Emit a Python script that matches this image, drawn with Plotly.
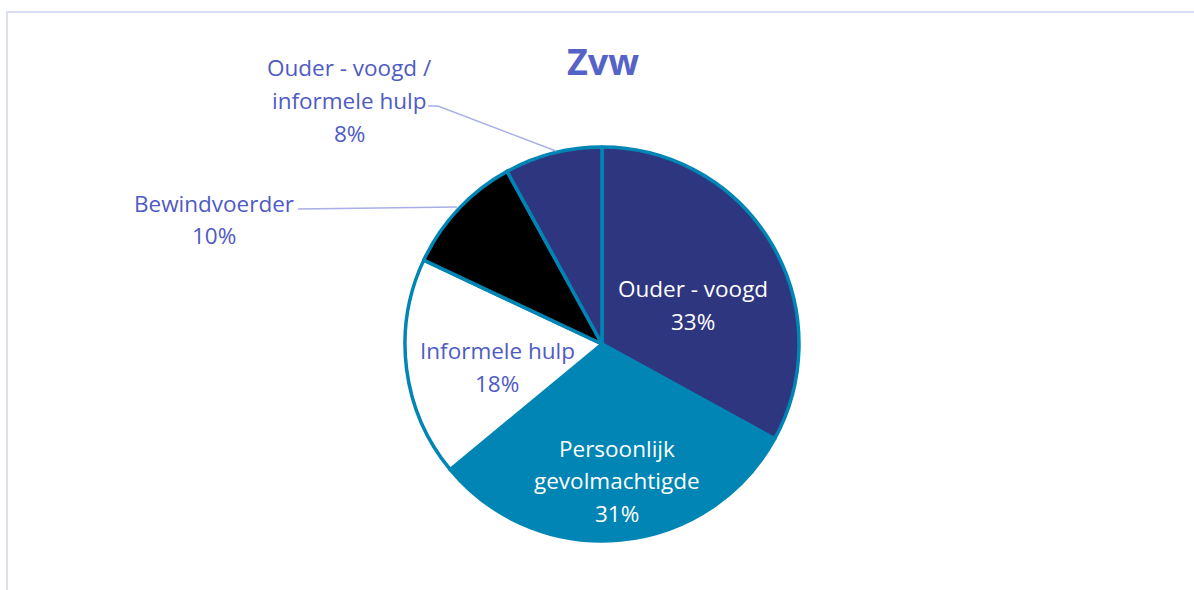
import plotly.graph_objects as go

W, H = 1194, 590

labels = ["Ouder - voogd", "Persoonlijk gevolmachtigde", "Informele hulp",
          "Bewindvoerder", "Ouder - voogd / informele hulp"]
label_lines = [["Ouder - voogd"], ["Persoonlijk", "gevolmachtigde"], ["Informele hulp"],
               ["Bewindvoerder"], ["Ouder - voogd /", "informele hulp"]]
values = [33, 31, 18, 10, 8]
colors = ["#2E3680", "#0085B5", "#FFFFFF", "#000000", "#2E3680"]
text_colors = ["#FFFFFF", "#FFFFFF", "#4F5BC4", "#4F5BC4", "#4F5BC4"]
# label anchor (pixel centre of first line)
label_pos = [(693, 289), (617, 448), (497, 351), (214, 203), (349, 68)]

def px(x):
    return x / W

def py(y):
    return 1 - y / H

cx, cy, r = 602, 344, 197

fig = go.Figure(go.Pie(
    labels=labels, values=values, sort=False, direction="clockwise", rotation=0,
    marker=dict(colors=colors, line=dict(color="#0085B5", width=3.5)),
    textinfo="none", hoverinfo="label+percent",
    domain=dict(x=[px(cx - r), px(cx + r)], y=[py(cy + r), py(cy - r)]),
    showlegend=False,
))

total = sum(values)
annotations = []
line_h = 32.5
for lines, v, (x, y), col in zip(label_lines, values, label_pos, text_colors):
    pct = f"{round(100 * v / total)}%"
    for i, t in enumerate(lines + [pct]):
        annotations.append(dict(
            x=px(x), y=py(y + i * line_h), xref="paper", yref="paper",
            text=t, showarrow=False, xanchor="center", yanchor="middle",
            font=dict(family="Open Sans", size=22.5, color=col)))

annotations.append(dict(
    x=px(603), y=py(61), xref="paper", yref="paper", text="<b>Zvw</b>",
    showarrow=False, xanchor="center", yanchor="middle",
    font=dict(family="Open Sans", size=36, color="#5563C9")))

leader = "#A9AEE6"
shapes = [
    dict(type="rect", xref="paper", yref="paper", x0=px(7), x1=px(1240), y0=py(640), y1=py(12),
         line=dict(color="#DCDFF3", width=2)),
    dict(type="path", xref="paper", yref="paper",
         path=f"M {px(428)} {py(106)} L {px(438)} {py(106)} L {px(556)} {py(151)}",
         line=dict(color=leader, width=1.5)),
    dict(type="line", xref="paper", yref="paper", x0=px(298), y0=py(209), x1=px(457), y1=py(207),
         line=dict(color=leader, width=1.5)),
]

fig.update_layout(
    width=W, height=H, margin=dict(l=0, r=0, t=0, b=0),
    paper_bgcolor="white", plot_bgcolor="white",
    annotations=annotations, shapes=shapes,
)

fig.write_html("out.html", config={"displayModeBar": False},
               post_script="document.body.style.margin='0';")
